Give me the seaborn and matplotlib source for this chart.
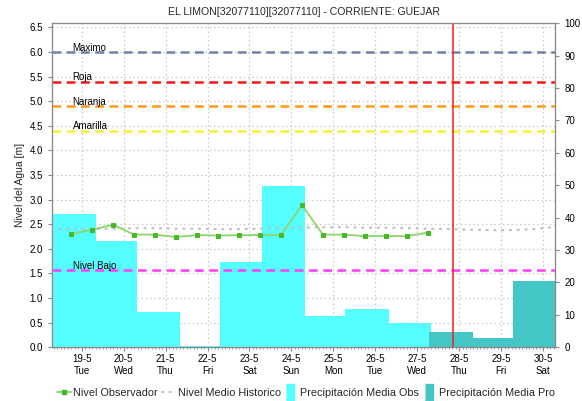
import matplotlib

matplotlib.use("Agg")
import matplotlib.dates as mdates
import matplotlib.pyplot as plt
import matplotlib.ticker as mticker
import numpy as np
import pandas as pd
import seaborn as sns
from matplotlib.lines import Line2D
from matplotlib.transforms import blended_transform_factory

TITLE = "EL LIMON[32077110][32077110] - CORRIENTE: GUEJAR"
Y_LABEL = "Nivel del Agua [m]"

X_START = "2020-05-18 07:00"
X_END = "2020-05-30 07:00"
NOW = "2020-05-27 20:20"

# observed level (m), every 12 h
obs_times = pd.date_range("2020-05-18 18:00", "2020-05-27 06:00", freq="12h")
obs_level = [2.30, 2.39, 2.49, 2.29, 2.29, 2.24, 2.28, 2.27, 2.28,
             2.28, 2.28, 2.89, 2.29, 2.29, 2.26, 2.26, 2.26, 2.33]

# historic mean level (m), every 12 h
hist_times = pd.date_range("2020-05-18 06:00", "2020-05-30 06:00", freq="12h")
hist_level = [2.40, 2.40, 2.40, 2.41, 2.42, 2.42, 2.41, 2.41, 2.40, 2.40,
              2.41, 2.42, 2.43, 2.44, 2.44, 2.43, 2.43, 2.42, 2.41, 2.40,
              2.39, 2.38, 2.38, 2.40, 2.44]

# observed precipitation (mm) per interval
obs_rain_start = ["2020-05-18 07:00", "2020-05-19 08:00", "2020-05-20 07:50",
                  "2020-05-21 08:00", "2020-05-22 07:00", "2020-05-23 07:20",
                  "2020-05-24 07:40", "2020-05-25 06:30", "2020-05-26 07:40"]
obs_rain_end = obs_rain_start[1:] + ["2020-05-27 08:00"]
obs_rain = [41.0, 32.9, 10.9, 0.5, 26.4, 49.9, 9.7, 11.9, 7.6]

# forecast precipitation (mm) per interval
pro_rain_start = ["2020-05-27 06:40", "2020-05-28 08:00", "2020-05-29 07:00"]
pro_rain_end = pro_rain_start[1:] + ["2020-05-30 08:00"]
pro_rain = [4.7, 3.0, 20.6]

# alert thresholds (m)
threshold_names = ["Maximo", "Roja", "Naranja", "Amarilla", "Nivel Bajo"]
threshold_levels = [6.0, 5.4, 4.9, 4.4, 1.565]
threshold_colors = ["#7282A6", "#F21818", "#FF9A12", "#F2F233", "#FF3CFF"]

LEVEL_TICKS = np.arange(0, 6.51, 0.5)
RAIN_TICKS = np.arange(0, 101, 10)

OBS_LINE = "#8AD66A"
OBS_MARK = "#46B82A"
HIST_COLOR = "#BDBDBD"
OBS_BAR = "#55FFFF"
PRO_BAR = "#45C6C6"
NOW_COLOR = "#FF1A1A"
SPINE = "#8A8A8A"
GRID = "#C8C8C8"

sns.set_theme(style="white", rc={"axes.edgecolor": SPINE, "xtick.color": SPINE, "ytick.color": SPINE})
plt.rcParams["font.family"] = ["Liberation Sans", "DejaVu Sans"]


def _days(values):
    return mdates.date2num(pd.to_datetime(values))


def _day_label(value, _pos):
    day = mdates.num2date(value)
    return f"{day.day}-{day.month}\n{day:%a}"


fig = plt.figure(figsize=(5.82, 4.01), dpi=100)
ax = fig.add_axes([0.0893, 0.134, 0.865, 0.808])
ax_rain = ax.twinx()
ax_line = ax.twinx()

# grid + left axis on the bottom axes
ax.set_ylim(0, 6.585)
ax.set_yticks(LEVEL_TICKS)
ax.yaxis.set_major_formatter(mticker.FormatStrFormatter("%.1f"))
ax.grid(True, color=GRID, linestyle=(0, (1.2, 2.2)), linewidth=0.9)
ax.set_ylabel(Y_LABEL, fontsize=7.5, labelpad=3)
ax.set_title(TITLE, fontsize=7.6, pad=6)

# precipitation bars
start = _days(obs_rain_start)
ax_rain.bar(start, obs_rain, width=_days(obs_rain_end) - start,
            align="edge", color=OBS_BAR, linewidth=0)
start = _days(pro_rain_start)
ax_rain.bar(start, pro_rain, width=_days(pro_rain_end) - start,
            align="edge", color=PRO_BAR, linewidth=0)
ax_rain.set_ylim(0, 100)
ax_rain.set_yticks(RAIN_TICKS)
ax_rain.patch.set_visible(False)

# levels on top
ax_line.patch.set_visible(False)
sns.lineplot(x=hist_times, y=hist_level, ax=ax_line, color=HIST_COLOR,
             linewidth=1.4, linestyle=(0, (1.5, 2.5)))
sns.lineplot(x=obs_times, y=obs_level, ax=ax_line, color=OBS_LINE, linewidth=1.3,
             marker="s", markersize=3.2, markerfacecolor=OBS_MARK,
             markeredgecolor=OBS_MARK)

label_tf = blended_transform_factory(ax_line.transAxes, ax_line.transData)
for name, level, color in zip(threshold_names, threshold_levels, threshold_colors):
    ax_line.axhline(level, color=color, linewidth=1.8, linestyle=(0, (3.5, 2.2)))
    ax_line.text(0.041, level - 0.01, name, transform=label_tf, fontsize=7,
                 color="black", va="bottom", ha="left")

ax_line.axvline(_days([NOW])[0], color=NOW_COLOR, linewidth=1.1)
ax_line.set_ylim(ax.get_ylim())
ax_line.set_yticks([])
ax_line.set_ylabel("")

# shared x axis
for axis in (ax, ax_rain, ax_line):
    axis.set_xlim(_days([X_START, X_END]))
    axis.set_xlabel("")
ax.xaxis.set_major_locator(mdates.DayLocator())
ax.xaxis.set_minor_locator(mdates.HourLocator(byhour=range(0, 24, 2)))
ax.xaxis.set_major_formatter(mticker.FuncFormatter(_day_label))
ax_line.tick_params(axis="x", which="both", bottom=False, labelbottom=False)
ax_rain.tick_params(axis="x", which="both", bottom=False, labelbottom=False)

ax.tick_params(axis="x", which="major", bottom=True, length=3, width=0.8,
               labelsize=7, labelcolor="black", pad=2)
ax.tick_params(axis="x", which="minor", bottom=True, length=1.5, width=0.6)
ax.tick_params(axis="y", left=True, length=3, width=0.8, labelsize=7, labelcolor="black")
ax_rain.tick_params(axis="y", right=True, length=3, width=0.8, labelsize=7, labelcolor="black")
for axis in (ax, ax_rain, ax_line):
    for spine in axis.spines.values():
        spine.set_color(SPINE)
        spine.set_linewidth(0.8)

rect = [(-0.28, -0.5), (0.28, -0.5), (0.28, 0.5), (-0.28, 0.5)]
handles = [
    Line2D([], [], color=OBS_LINE, linewidth=1.3, marker="s", markersize=3,
           markerfacecolor=OBS_MARK, markeredgecolor=OBS_MARK),
    Line2D([], [], color=HIST_COLOR, linewidth=1.2, linestyle=(0, (2, 2.5))),
    Line2D([], [], linestyle="none", color=OBS_BAR, markersize=11, marker=rect),
    Line2D([], [], linestyle="none", color=PRO_BAR, markersize=11, marker=rect),
]
labels = ["Nivel Observador", "Nivel Medio Historico",
          "Precipitación Media Obs", "Precipitación Media Pro"]
fig.legend(handles, labels, loc="center", bbox_to_anchor=(0.525, 0.02), ncol=4,
           frameon=False, fontsize=7.8, handlelength=1.3, handletextpad=0.25,
           columnspacing=0.25)

fig.savefig("out.png", dpi=100)
